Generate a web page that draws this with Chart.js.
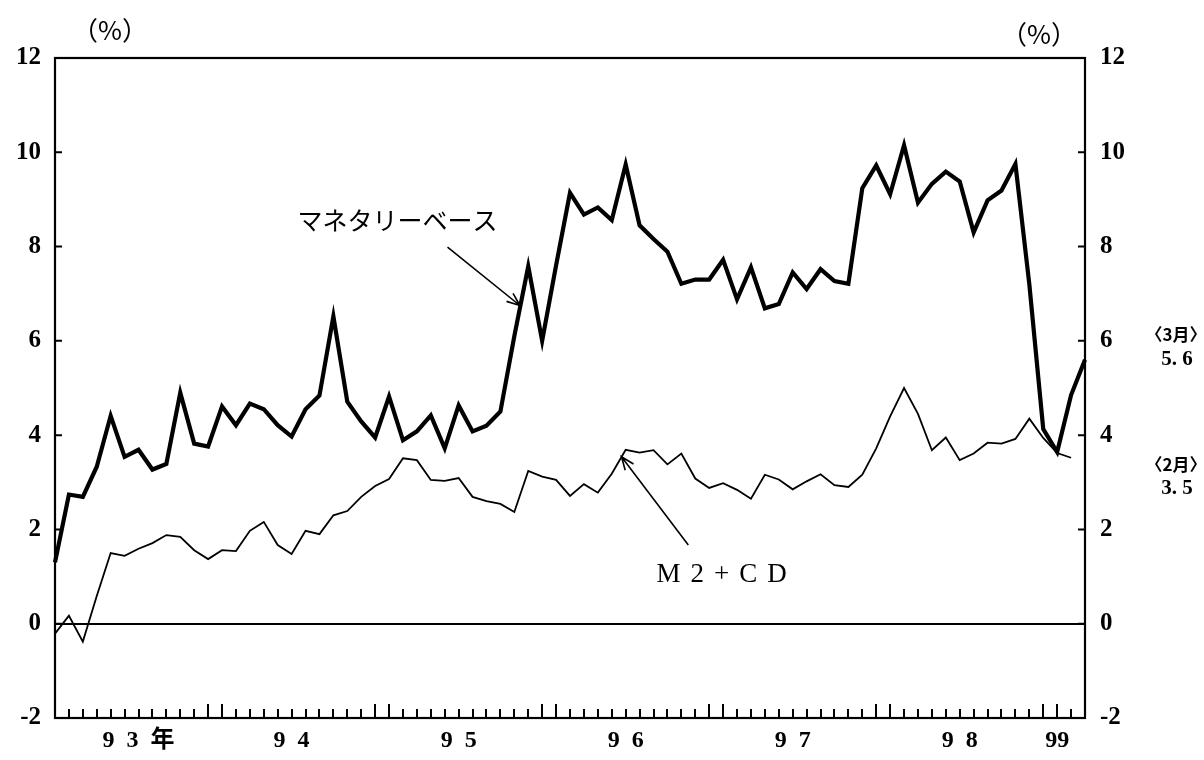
<!DOCTYPE html>
<html lang="ja">
<head>
<meta charset="utf-8">
<title>マネタリーベースとM2+CD</title>
<script src="https://cdn.jsdelivr.net/npm/chart.js@4.4.1/dist/chart.umd.min.js"></script>
<style>
  html, body { margin: 0; padding: 0; background: #fff; }
  #wrap { width: 1204px; height: 760px; }
</style>
</head>
<body>
<div id="wrap"><canvas id="grafico" width="1204" height="760"></canvas></div>
<script>
// meses: 1993/1 .. 1999/3
const anos = [1993, 1994, 1995, 1996, 1997, 1998, 1999];
const meses = [];
anos.forEach(ano => {
    const ultimo = ano === 1999 ? 3 : 12;
    for (let m = 1; m <= ultimo; m++) meses.push(`${ano}/${m}`);
});

// マネタリーベース (前年比, %)
const baseMonetaria = [
    1.3, 2.74, 2.69, 3.33, 4.41, 3.54, 3.69, 3.27, 3.39, 4.9, 3.82, 3.76,
    4.61, 4.21, 4.67, 4.55, 4.21, 3.97, 4.55, 4.84, 6.52, 4.71, 4.29, 3.95,
    4.82, 3.89, 4.08, 4.42, 3.72, 4.63, 4.08, 4.2, 4.5, 6.1, 7.58, 6.0,
    7.6, 9.14, 8.68, 8.83, 8.56, 9.74, 8.45, 8.16, 7.89, 7.21, 7.3, 7.3,
    7.72, 6.88, 7.56, 6.69, 6.78, 7.45, 7.1, 7.52, 7.27, 7.21, 9.24, 9.72,
    9.11, 10.15, 8.93, 9.33, 9.59, 9.38, 8.3, 8.98, 9.19, 9.75, 7.2, 4.13,
    3.64, 4.85, 5.6
];

// M2+CD (前年比, %) 1999/2 まで
const m2cd = [
    -0.21, 0.17, -0.38, 0.59, 1.5, 1.44, 1.59, 1.71, 1.88, 1.84, 1.56, 1.37,
    1.56, 1.54, 1.97, 2.16, 1.67, 1.48, 1.97, 1.9, 2.3, 2.39, 2.69, 2.92,
    3.07, 3.51, 3.47, 3.05, 3.03, 3.09, 2.69, 2.6, 2.54, 2.37, 3.24, 3.12,
    3.05, 2.71, 2.96, 2.78, 3.18, 3.69, 3.63, 3.68, 3.38, 3.61, 3.08, 2.88,
    2.98, 2.84, 2.65, 3.16, 3.06, 2.85, 3.02, 3.17, 2.94, 2.9, 3.16, 3.72,
    4.4, 5.0, 4.45, 3.68, 3.95, 3.47, 3.61, 3.84, 3.82, 3.92, 4.35, 3.94,
    3.62, 3.52
];

// rótulos de ano no eixo x
const rotuloMes = ['1993/7', '1994/6', '1995/6', '1996/6', '1997/6', '1998/6', '1999/1'];
const rotuloTexto = ['9  3  年', '9  4', '9  5', '9  6', '9  7', '9  8', '99'];

const yMin = -2, yMax = 12, yPasso = 2;

const fonteNum = '"Liberation Serif", "Noto Sans CJK JP", serif';
const fonteJp = '"Noto Sans CJK JP", sans-serif';

function seta(ctx, x1, y1, x2, y2) {
    const ang = Math.atan2(y2 - y1, x2 - x1);
    const t = 14;
    ctx.beginPath();
    ctx.moveTo(x1, y1);
    ctx.lineTo(x2, y2);
    ctx.moveTo(x2 - t * Math.cos(ang - 0.38), y2 - t * Math.sin(ang - 0.38));
    ctx.lineTo(x2, y2);
    ctx.lineTo(x2 - t * Math.cos(ang + 0.38), y2 - t * Math.sin(ang + 0.38));
    ctx.stroke();
}

const moldura = {
    id: 'moldura',
    beforeDraw(chart) {
        const ctx = chart.ctx;
        ctx.save();
        ctx.fillStyle = '#fff';
        ctx.fillRect(0, 0, chart.width, chart.height);
        ctx.restore();
    },
    afterDraw(chart) {
        const { ctx, chartArea: a } = chart;
        const xs = chart.scales.x, ys = chart.scales.y;
        ctx.save();
        ctx.strokeStyle = '#000';
        ctx.fillStyle = '#000';

        // marcas mensais (para dentro)
        ctx.lineWidth = 2;
        ctx.lineCap = 'butt';
        for (let i = 0; i < meses.length; i++) {
            const mes = Number(meses[i].split('/')[1]);
            const len = (mes === 12 || mes === 1) ? 14 : 9;
            const px = Math.round(xs.getPixelForValue(i));
            ctx.beginPath();
            ctx.moveTo(px, a.bottom);
            ctx.lineTo(px, a.bottom - len);
            ctx.stroke();
        }

        // marcas dos eixos y
        ys.ticks.forEach(t => {
            const py = ys.getPixelForValue(t.value);
            ctx.beginPath();
            ctx.moveTo(a.left, py); ctx.lineTo(a.left + 7, py);
            ctx.moveTo(a.right, py); ctx.lineTo(a.right - 7, py);
            ctx.stroke();
        });

        // caixa
        ctx.lineWidth = 2.2;
        ctx.strokeRect(a.left, a.top, a.right - a.left, a.bottom - a.top);

        // (%)
        ctx.textAlign = 'center';
        ctx.textBaseline = 'middle';
        ctx.font = '26px ' + fonteJp;
        ctx.fillText('（%）', 110, 30);
        ctx.fillText('（%）', 1039, 34);

        // notas à direita
        ctx.font = 'bold 17px ' + fonteJp;
        ctx.fillText('〈3月〉', 1176, 335);
        ctx.fillText('〈2月〉', 1176, 465);
        ctx.font = 'bold 21px ' + fonteNum;
        ctx.fillText('5. 6', 1177, 360);
        ctx.fillText('3. 5', 1177, 489);

        // マネタリーベース
        ctx.font = '25px ' + fonteJp;
        ctx.fillText('マネタリーベース', xs.getPixelForValue(24.6), ys.getPixelForValue(8.56));
        ctx.lineWidth = 1.6;
        seta(ctx, xs.getPixelForValue(28.2), ys.getPixelForValue(7.99),
                  xs.getPixelForValue(33.4), ys.getPixelForValue(6.75));

        // M2+CD
        ctx.font = '27px ' + fonteNum;
        ctx.letterSpacing = '10px';
        ctx.fillText('M2+CD', xs.getPixelForValue(47.9) + 5, ys.getPixelForValue(1.03));
        ctx.letterSpacing = '0px';
        seta(ctx, xs.getPixelForValue(45.5), ys.getPixelForValue(1.67),
                  xs.getPixelForValue(40.7), ys.getPixelForValue(3.54));

        ctx.restore();
    }
};

const eixoY = (posicao, largura, padding) => ({
    type: 'linear',
    position: posicao,
    min: yMin,
    max: yMax,
    ticks: {
        stepSize: yPasso,
        padding: padding,
        color: '#000',
        font: { family: fonteNum, size: 25, weight: 'bold' }
    },
    border: { display: false },
    afterFit: s => { s.width = largura; }
});

const eixoEsq = eixoY('left', 55, 14);
eixoEsq.grid = {
    drawTicks: false,
    lineWidth: 2,
    color: c => c.tick && c.tick.value === 0 ? '#000' : 'rgba(0,0,0,0)'
};
const eixoDir = eixoY('right', 119, 15);
eixoDir.grid = { display: false, drawTicks: false };

new Chart(document.getElementById('grafico'), {
    type: 'line',
    data: {
        labels: meses,
        datasets: [
            {
                label: 'マネタリーベース',
                data: baseMonetaria,
                borderColor: '#000',
                borderWidth: 4.2,
                pointRadius: 0,
                tension: 0,
                yAxisID: 'y'
            },
            {
                label: 'M2+CD',
                data: m2cd,
                borderColor: '#000',
                borderWidth: 1.8,
                pointRadius: 0,
                tension: 0,
                yAxisID: 'y'
            }
        ]
    },
    options: {
        responsive: false,
        animation: false,
        layout: { padding: { top: 58, left: 0, right: 0, bottom: 0 } },
        plugins: {
            legend: { display: false },
            tooltip: { enabled: false }
        },
        scales: {
            x: {
                offset: false,
                grid: { display: false, drawTicks: false },
                border: { display: false },
                ticks: {
                    autoSkip: false,
                    maxRotation: 0,
                    minRotation: 0,
                    padding: 8,
                    color: '#000',
                    font: { family: fonteNum, size: 24, weight: 'bold' },
                    callback: (v, i) => {
                        const k = rotuloMes.indexOf(meses[i]);
                        return k >= 0 ? rotuloTexto[k] : '';
                    }
                },
                afterFit: s => { s.height = 42; }
            },
            y: eixoEsq,
            y1: eixoDir
        }
    },
    plugins: [moldura]
});
</script>
</body>
</html>
